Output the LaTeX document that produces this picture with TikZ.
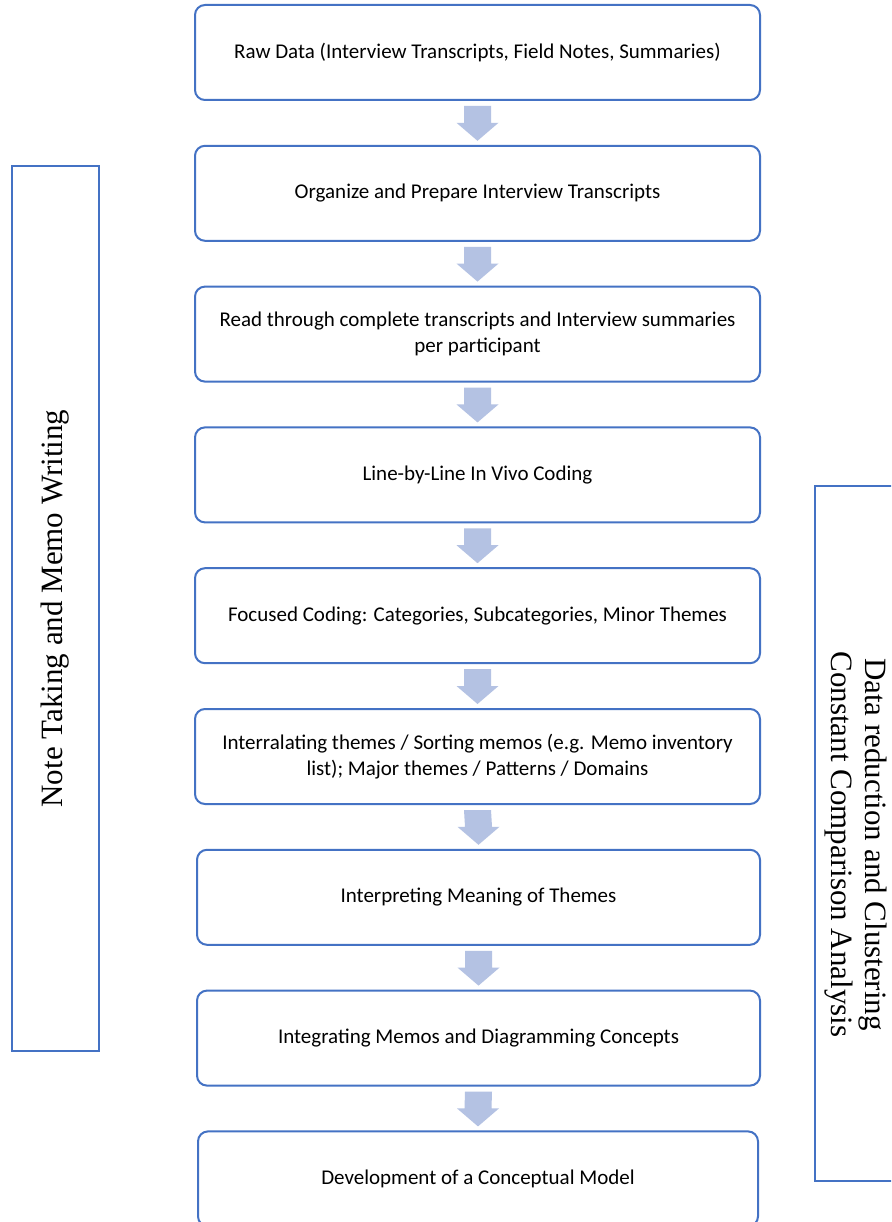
\documentclass[tikz,border=0pt]{standalone}
\usepackage{fontspec}
\setmainfont{Carlito}
\newfontfamily\sideserif{Liberation Serif}
\usetikzlibrary{calc}
\definecolor{boxblue}{RGB}{68,114,196}
\definecolor{arrowfill}{RGB}{180,194,227}
\tikzset{
  stepbox/.style={draw=boxblue, line width=2pt, rounded corners=10pt, fill=white,
    minimum width=565pt, minimum height=95pt, inner sep=0pt, align=center,
    font=\fontsize{21}{26.5}\selectfont},
  sidebox/.style={draw=boxblue, line width=2.7pt, fill=white, inner sep=0pt, align=center,
    font=\sideserif\fontsize{31}{33.5}\selectfont},
  sidetext/.style={inner sep=0pt, align=center, font=\sideserif\fontsize{31}{33.5}\selectfont}
}
\newcommand\blockarrow[2]{%
  \fill[arrowfill] ($(#1.south)+(-13.5,5)$) -- ($(#1.south)+(13.5,5)$)
    -- ($(#2.north)+(13.5,-22)$) -- ($(#2.north)+(21,-22)$) -- ($(#2.north)+(0,-4)$)
    -- ($(#2.north)+(-21,-22)$) -- ($(#2.north)+(-13.5,-22)$) -- cycle;}
\begin{document}
\begin{tikzpicture}[x=1pt,y=-1pt]
\useasboundingbox (0,0) rectangle (891,1222);
\clip (0,0) rectangle (891,1222);
\fill[white] (0,0) rectangle (891,1222);
% main steps
\node[stepbox] (s1) at (477.5,52.5) {Raw Data (Interview Transcripts, Field Notes, Summaries)};
\node[stepbox] (s2) at (477.5,193.3) {Organize and Prepare Interview Transcripts};
\node[stepbox] (s3) at (477.5,334.1) {Read through complete transcripts and Interview summaries\\per participant};
\node[stepbox] (s4) at (477.5,474.9) {Line-by-Line In Vivo Coding};
\node[stepbox] (s5) at (477.5,615.7) {Focused Coding: Categories, Subcategories, Minor Themes};
\node[stepbox] (s6) at (477.5,756.5) {Interralating themes / Sorting memos (e.g. Memo inventory\\list); Major themes / Patterns / Domains};
\node[stepbox, minimum width=563pt] (s7) at (478.5,897.3) {Interpreting Meaning of Themes};
\node[stepbox, minimum width=563pt] (s8) at (478.5,1038.1) {Integrating Memos and Diagramming Concepts};
\node[stepbox, minimum width=560pt] (s9) at (478,1178.9) {Development of a Conceptual Model};
% arrows
\blockarrow{s1}{s2}
\blockarrow{s2}{s3}
\blockarrow{s3}{s4}
\blockarrow{s4}{s5}
\blockarrow{s5}{s6}
\blockarrow{s6}{s7}
\blockarrow{s7}{s8}
\blockarrow{s8}{s9}
% side boxes
\node[sidebox, rotate=90, minimum width=885pt, minimum height=87pt] (left) at (55.5,608.5) {Note Taking and Memo Writing};
\node[sidebox, rotate=-90, minimum width=695pt, minimum height=82pt] (right) at (856,833.5) {};
\node[sidetext, rotate=-90] (righttext) at ($(right.center)+(0,11)$) {Data reduction and Clustering\\Constant Comparison Analysis};
\end{tikzpicture}
\end{document}
